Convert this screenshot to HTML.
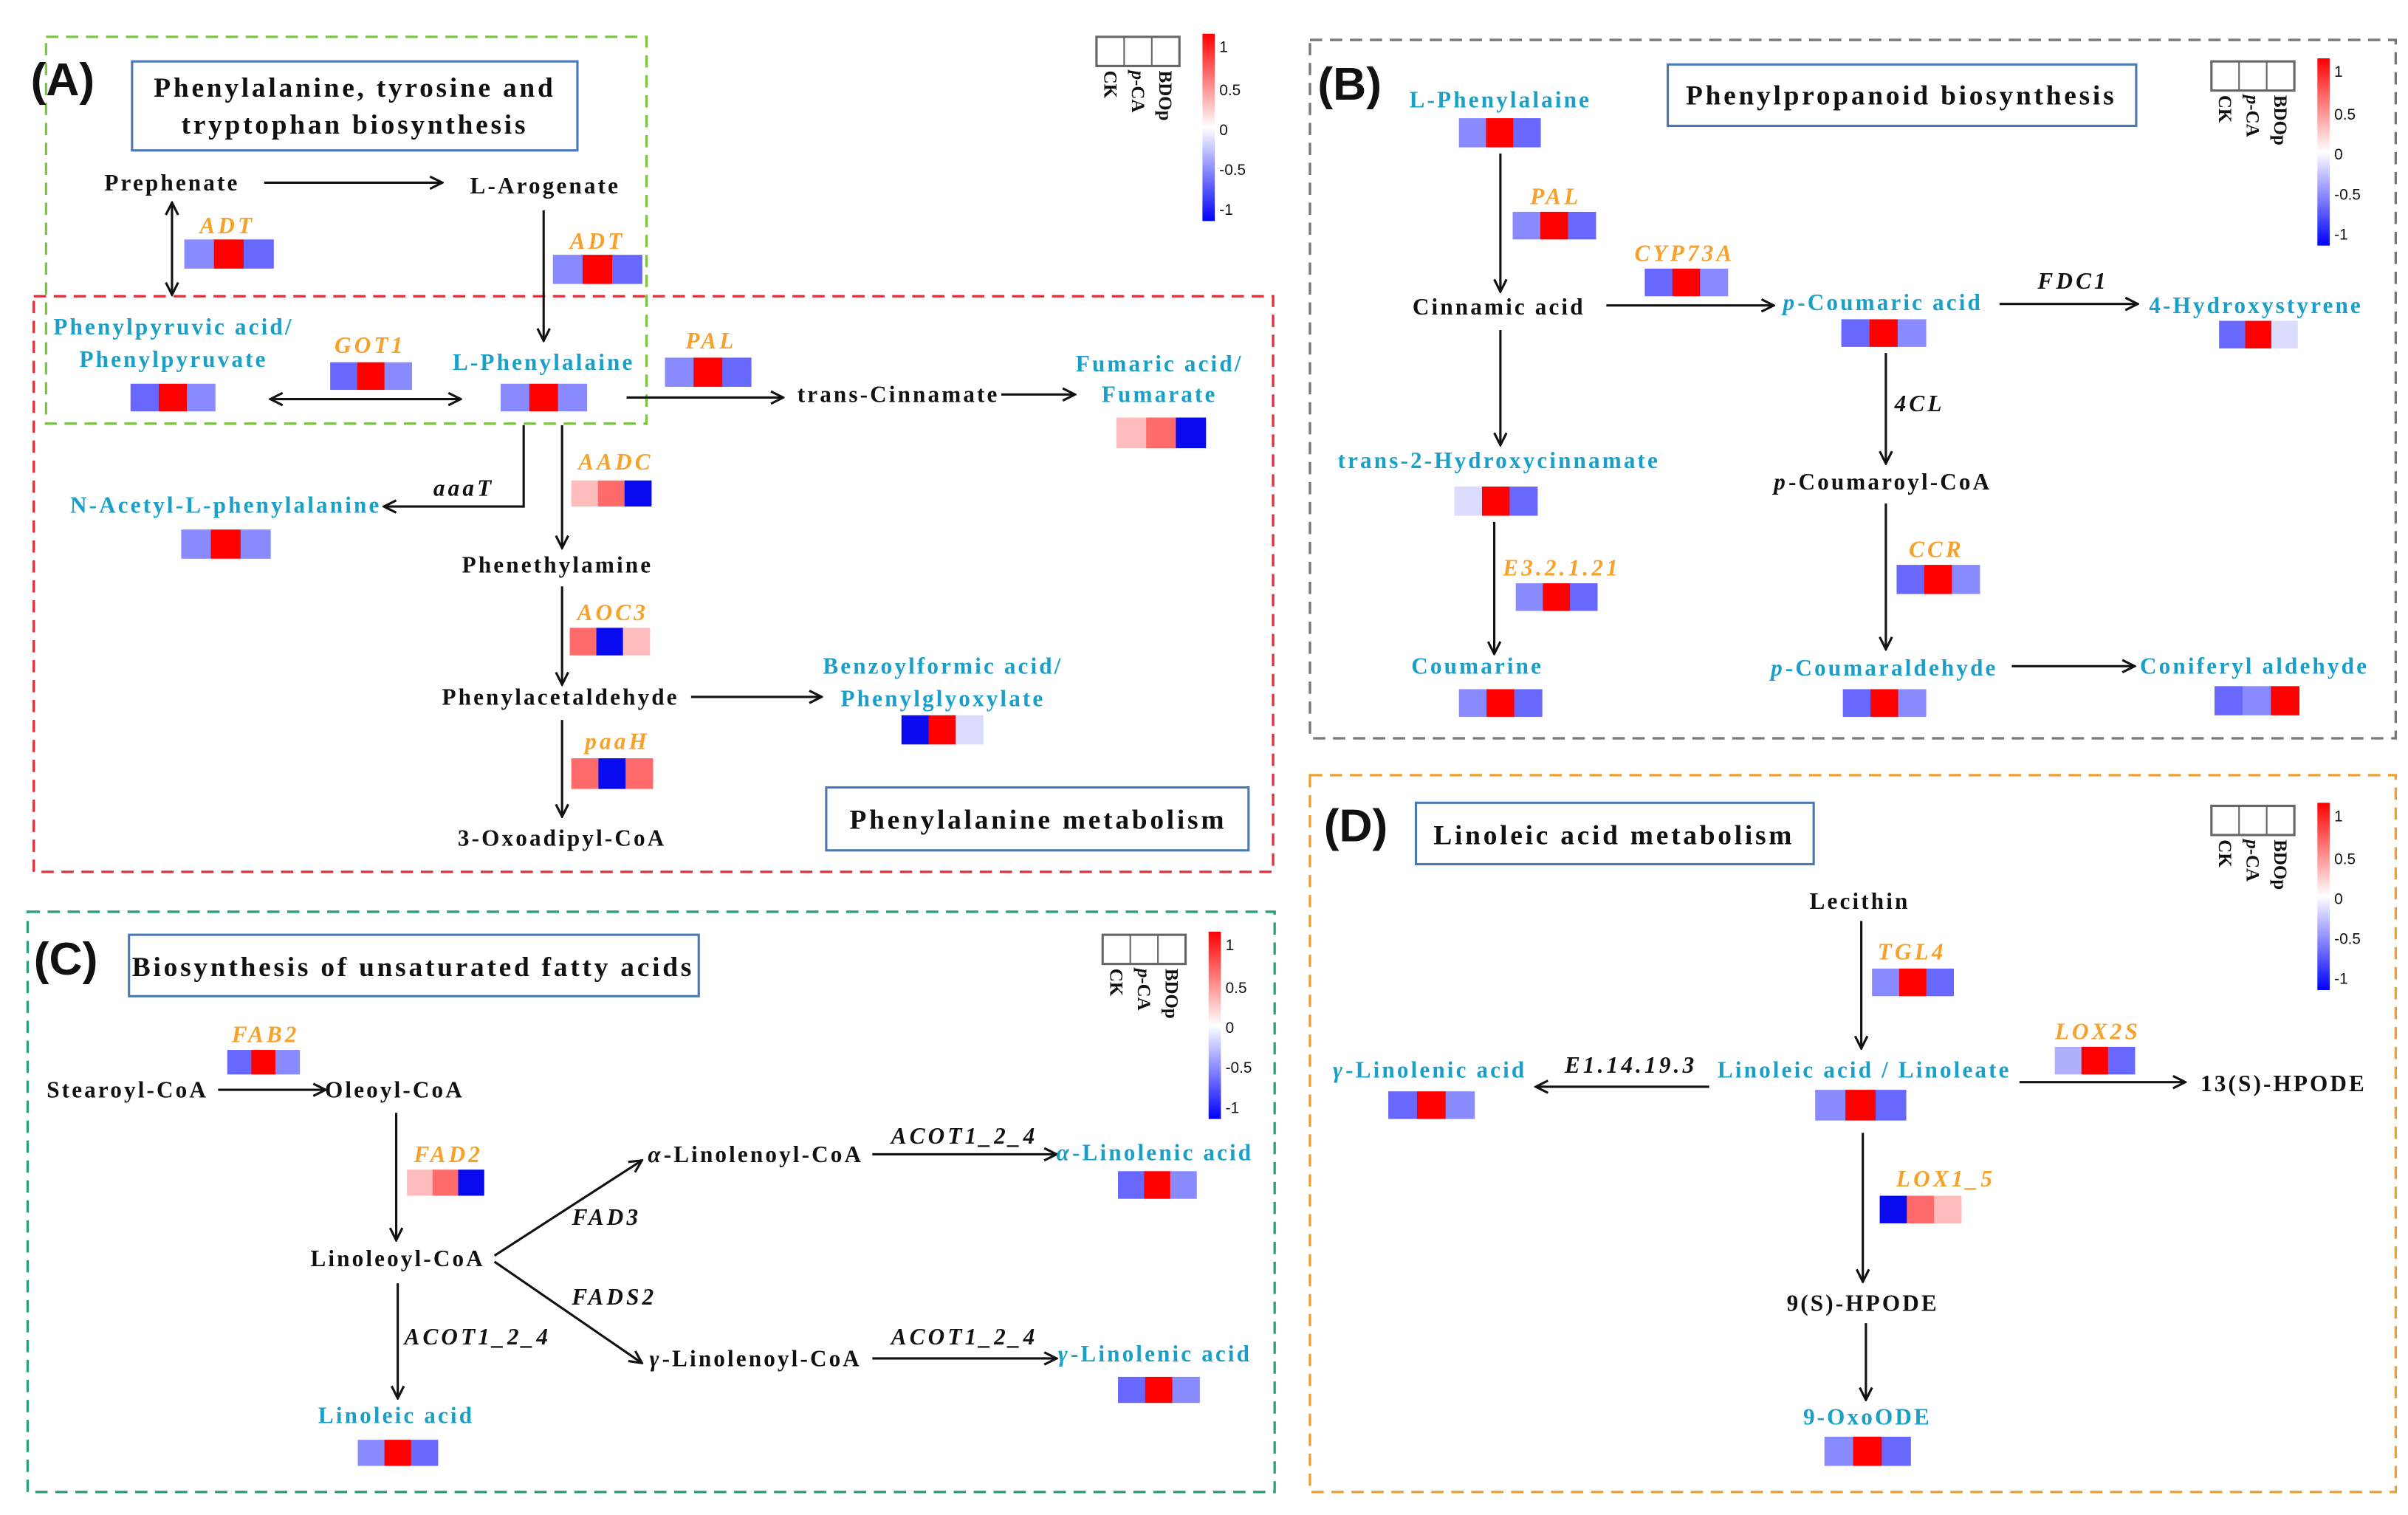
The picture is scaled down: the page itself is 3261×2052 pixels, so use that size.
<!DOCTYPE html>
<html><head><meta charset="utf-8"><style>
html,body{margin:0;padding:0;background:#fff;width:3261px;height:2052px;overflow:hidden}
svg{display:block}
text{font-family:"Liberation Serif",serif;font-weight:bold;font-size:15px;text-anchor:middle;fill:#111;letter-spacing:1.5px}
.b{fill:#1a9fc9}
.o{fill:#f7a12a;font-style:italic;letter-spacing:2px}
.i{font-style:italic;letter-spacing:2px}
.t{font-size:18px;letter-spacing:1.8px}
.L{font-family:"Liberation Sans",sans-serif;font-size:30px;text-anchor:start;letter-spacing:0}
.s{font-size:10px;font-weight:normal;text-anchor:start;font-family:"Liberation Sans",sans-serif;letter-spacing:0}
</style></head><body>
<svg width="3261" height="2052" viewBox="0 0 1568 987" preserveAspectRatio="none" xmlns="http://www.w3.org/2000/svg">
<defs>
<marker id="a" markerWidth="10" markerHeight="10" refX="9" refY="5" orient="auto" markerUnits="userSpaceOnUse"><path d="M1,1 L9,5 L1,9" fill="none" stroke="#111" stroke-width="1.5"/></marker>
<marker id="as" markerWidth="10" markerHeight="10" refX="1" refY="5" orient="auto" markerUnits="userSpaceOnUse"><path d="M9,1 L1,5 L9,9" fill="none" stroke="#111" stroke-width="1.5"/></marker>
<linearGradient id="cb" x1="0" y1="0" x2="0" y2="1"><stop offset="0" stop-color="#ff0000"/><stop offset="0.5" stop-color="#ffffff"/><stop offset="1" stop-color="#0000ff"/></linearGradient>
</defs>
<g fill="none" stroke-dasharray="8,5" stroke-width="1.6">
<rect x="30" y="24" width="391" height="252" stroke="#7cc543"/>
<rect x="22" y="193" width="807" height="375" stroke="#e0303a"/>
<rect x="853" y="26" width="707" height="455" stroke="#777"/>
<rect x="18" y="594" width="812" height="378" stroke="#2aa07a"/>
<rect x="853" y="505" width="707" height="467" stroke="#f0a030"/>
</g>
<g fill="#fff" stroke="#4a7ab5" stroke-width="1.5">
<rect x="86" y="40" width="290" height="58"/>
<rect x="538" y="513" width="275" height="41"/>
<rect x="1086" y="42" width="305" height="40"/>
<rect x="84" y="609" width="371" height="40"/>
<rect x="922" y="523" width="259" height="40"/>
</g>
<text class="L" x="20" y="62">(A)</text>
<text class="L" x="858" y="65">(B)</text>
<text class="L" x="22" y="635">(C)</text>
<text class="L" x="862" y="548">(D)</text>
<text class="t" x="231" y="63">Phenylalanine, tyrosine and</text>
<text class="t" x="231" y="87">tryptophan biosynthesis</text>
<text class="t" x="676" y="540">Phenylalanine  metabolism</text>
<text class="t" x="1238" y="68">Phenylpropanoid biosynthesis</text>
<text class="t" x="269" y="636">Biosynthesis of unsaturated fatty acids</text>
<text class="t" x="1051" y="550">Linoleic acid metabolism</text>
<g stroke="#111" stroke-width="1.5" fill="none" marker-end="url(#a)">
<line x1="172" y1="119" x2="288" y2="119"/>
<line x1="112" y1="132" x2="112" y2="192" marker-start="url(#as)"/>
<line x1="354" y1="137" x2="354" y2="222"/>
<line x1="176" y1="260" x2="300" y2="260" marker-start="url(#as)"/>
<line x1="408" y1="259" x2="510" y2="259"/>
<line x1="652" y1="257" x2="700" y2="257"/>
<polyline points="341,277 341,330 250,330"/>
<line x1="366" y1="277" x2="366" y2="357"/>
<line x1="366" y1="382" x2="366" y2="446"/>
<line x1="450" y1="454" x2="535" y2="454"/>
<line x1="366" y1="469" x2="366" y2="532"/>
<line x1="977" y1="100" x2="977" y2="190"/>
<line x1="1046" y1="199" x2="1155" y2="199"/>
<line x1="1302" y1="198" x2="1392" y2="198"/>
<line x1="1228" y1="230" x2="1228" y2="302"/>
<line x1="1228" y1="328" x2="1228" y2="423"/>
<line x1="1310" y1="434" x2="1390" y2="434"/>
<line x1="977" y1="215" x2="977" y2="290"/>
<line x1="973" y1="340" x2="973" y2="426"/>
<line x1="142" y1="710" x2="212" y2="710"/>
<line x1="258" y1="725" x2="258" y2="808"/>
<line x1="322" y1="818" x2="418" y2="756"/>
<line x1="322" y1="822" x2="418" y2="888"/>
<line x1="568" y1="752" x2="688" y2="752"/>
<line x1="568" y1="885" x2="688" y2="885"/>
<line x1="259" y1="836" x2="259" y2="911"/>
<line x1="1212" y1="600" x2="1212" y2="683"/>
<line x1="1113" y1="708" x2="1000" y2="708"/>
<line x1="1315" y1="705" x2="1423" y2="705"/>
<line x1="1213" y1="738" x2="1213" y2="835"/>
<line x1="1215" y1="862" x2="1215" y2="912"/>
</g>
<g id="hm"></g>
<text x="112" y="124">Prephenate</text>
<text x="355" y="126">L-Arogenate</text>
<text class="o" x="148" y="152">ADT</text>
<text class="o" x="389" y="162">ADT</text>
<text class="b" x="113" y="218">Phenylpyruvic acid/</text>
<text class="b" x="113" y="239">Phenylpyruvate</text>
<text class="o" x="241" y="230">GOT1</text>
<text class="b" x="354" y="241">L-Phenylalaine</text>
<text class="o" x="463" y="227">PAL</text>
<text x="585" y="262">trans-Cinnamate</text>
<text class="b" x="755" y="242">Fumaric acid/</text>
<text class="b" x="755" y="262">Fumarate</text>
<text class="i" x="302" y="323">aaaT</text>
<text class="o" x="401" y="306">AADC</text>
<text class="b" x="147" y="334">N-Acetyl-L-phenylalanine</text>
<text x="363" y="373">Phenethylamine</text>
<text class="o" x="399" y="404">AOC3</text>
<text x="365" y="459">Phenylacetaldehyde</text>
<text class="b" x="614" y="439">Benzoylformic acid/</text>
<text class="b" x="614" y="460">Phenylglyoxylate</text>
<text class="o" x="402" y="488">paaH</text>
<text x="366" y="551">3-Oxoadipyl-CoA</text>
<text class="b" x="977" y="70">L-Phenylalaine</text>
<text class="o" x="1013" y="133">PAL</text>
<text x="976" y="205">Cinnamic acid</text>
<text class="o" x="1097" y="170">CYP73A</text>
<text class="b" x="1226" y="202"><tspan class="i">p</tspan>-Coumaric acid</text>
<text class="i" x="1350" y="188">FDC1</text>
<text class="b" x="1469" y="204">4-Hydroxystyrene</text>
<text class="i" x="1250" y="268">4CL</text>
<text x="1226" y="319"><tspan class="i">p</tspan>-Coumaroyl-CoA</text>
<text class="o" x="1261" y="363">CCR</text>
<text class="b" x="1227" y="440"><tspan class="i">p</tspan>-Coumaraldehyde</text>
<text class="b" x="1468" y="439">Coniferyl aldehyde</text>
<text class="b" x="976" y="305">trans-2-Hydroxycinnamate</text>
<text class="o" x="1017" y="375">E3.2.1.21</text>
<text class="b" x="962" y="439">Coumarine</text>
<text class="o" x="173" y="679">FAB2</text>
<text x="83" y="715">Stearoyl-CoA</text>
<text x="257" y="715">Oleoyl-CoA</text>
<text class="o" x="292" y="757">FAD2</text>
<text x="259" y="825">Linoleoyl-CoA</text>
<text class="i" x="395" y="798">FAD3</text>
<text class="i" x="400" y="850">FADS2</text>
<text x="492" y="757"><tspan class="i">α</tspan>-Linolenoyl-CoA</text>
<text class="i" x="628" y="745">ACOT1_2_4</text>
<text class="b" x="752" y="756"><tspan class="i">α</tspan>-Linolenic acid</text>
<text x="492" y="890"><tspan class="i">γ</tspan>-Linolenoyl-CoA</text>
<text class="i" x="628" y="876">ACOT1_2_4</text>
<text class="b" x="752" y="887"><tspan class="i">γ</tspan>-Linolenic acid</text>
<text class="i" x="311" y="876">ACOT1_2_4</text>
<text class="b" x="258" y="927">Linoleic acid</text>
<text x="1211" y="592">Lecithin</text>
<text class="o" x="1245" y="625">TGL4</text>
<text class="b" x="1214" y="702">Linoleic acid / Linoleate</text>
<text class="i" x="1062" y="699">E1.14.19.3</text>
<text class="b" x="931" y="702"><tspan class="i">γ</tspan>-Linolenic acid</text>
<text class="o" x="1366" y="677">LOX2S</text>
<text x="1487" y="711">13(S)-HPODE</text>
<text class="o" x="1267" y="773">LOX1_5</text>
<text x="1213" y="854">9(S)-HPODE</text>
<text class="b" x="1216" y="928">9-OxoODE</text>
<g id="lg">
<g transform="translate(714,24)"><rect width="54" height="19" fill="none" stroke="#666" stroke-width="1.5"/><line x1="18" y1="0" x2="18" y2="19" stroke="#666"/><line x1="36" y1="0" x2="36" y2="19" stroke="#666"/>
<text class="s" transform="translate(5,22) rotate(90)" style="font-family:'Liberation Serif';font-weight:bold;font-size:12px">CK</text>
<text class="s" transform="translate(23,22) rotate(90)" style="font-family:'Liberation Serif';font-weight:bold;font-size:12px"><tspan font-style="italic">p</tspan>-CA</text>
<text class="s" transform="translate(41,22) rotate(90)" style="font-family:'Liberation Serif';font-weight:bold;font-size:12px">BDOp</text>
<rect x="69" y="-2" width="8" height="122" fill="url(#cb)"/>
<text class="s" x="80" y="10">1</text><text class="s" x="80" y="38">0.5</text><text class="s" x="80" y="64">0</text><text class="s" x="80" y="90">-0.5</text><text class="s" x="80" y="116">-1</text></g>
</g>
</svg>
<script>
var svg=document.querySelector('svg'),ns='http://www.w3.org/2000/svg';
var C={lb:'#8a8aff',b:'#6868ff',r:'#ff0000',pr:'#ffbcbc',s:'#ff6a6a',db:'#0a0aee',vl:'#dcdcff',pb:'#b0b0ff'};
var H=[[120,156,178,175,'lb','r','b'],[360,166,418,185,'lb','r','b'],[85,250,140,268,'b','r','lb'],[215,236,268,254,'b','r','lb'],[326,250,382,268,'lb','r','lb'],[433,233,489,252,'lb','r','b'],[727,272,785,292,'pr','s','db'],[372,313,424,330,'pr','s','db'],[118,345,176,364,'lb','r','lb'],[371,409,423,427,'s','db','pr'],[587,466,640,485,'db','r','vl'],[372,494,425,514,'s','db','s'],
[950,77,1003,96,'lb','r','b'],[985,138,1039,156,'lb','r','b'],[1071,175,1125,193,'b','r','lb'],[1199,208,1254,226,'b','r','lb'],[1445,209,1496,227,'b','r','vl'],[1235,368,1289,387,'b','r','lb'],[1200,449,1254,467,'b','r','lb'],[1442,447,1497,466,'b','lb','r'],[947,317,1001,336,'vl','r','b'],[987,380,1040,398,'lb','r','b'],[950,449,1004,467,'lb','r','b'],
[148,684,195,700,'b','r','lb'],[265,762,315,779,'pr','s','db'],[728,763,779,781,'b','r','lb'],[728,897,781,914,'b','r','lb'],[233,938,285,955,'lb','r','b'],
[1219,631,1272,649,'lb','r','b'],[1182,710,1241,730,'lb','r','b'],[904,711,960,729,'b','r','lb'],[1338,682,1390,700,'pb','r','b'],[1224,779,1277,797,'db','s','pr'],[1188,936,1244,955,'lb','r','b']];
var g=document.getElementById('hm');
H.forEach(function(h){var w=(h[2]-h[0])/3;for(var i=0;i<3;i++){var r=document.createElementNS(ns,'rect');r.setAttribute('x',h[0]+i*w);r.setAttribute('y',h[1]);r.setAttribute('width',w+0.3);r.setAttribute('height',h[3]-h[1]);r.setAttribute('fill',C[h[4+i]]);g.appendChild(r);}});
var lg=document.querySelector('#lg > g');
[[1440,40],[718,609],[1440,525]].forEach(function(p){var c=lg.cloneNode(true);c.setAttribute('transform','translate('+p[0]+','+p[1]+')');lg.parentNode.appendChild(c);});
</script>
</body></html>
